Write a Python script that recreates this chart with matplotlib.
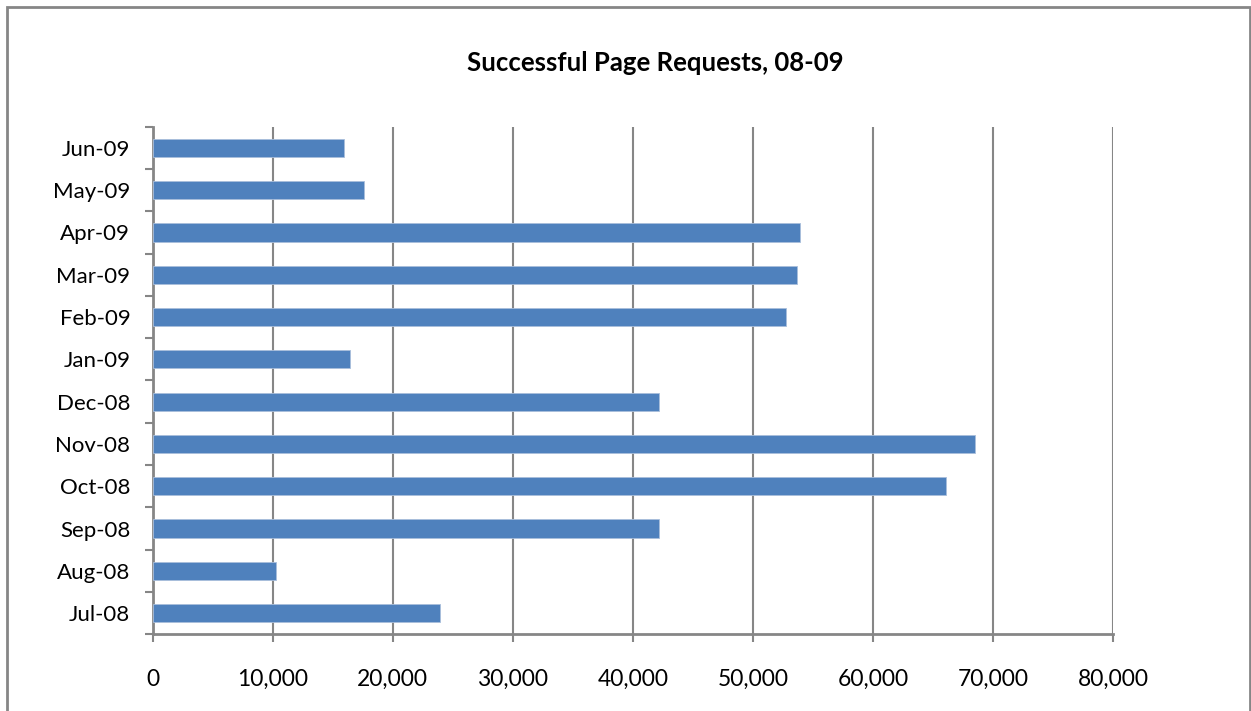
import matplotlib
matplotlib.use("Agg")
import matplotlib.pyplot as plt
from matplotlib.ticker import FuncFormatter
from matplotlib.patches import Rectangle
import numpy as np

months = ["Jul-08", "Aug-08", "Sep-08", "Oct-08", "Nov-08", "Dec-08",
          "Jan-09", "Feb-09", "Mar-09", "Apr-09", "May-09", "Jun-09"]
requests = [23940, 10290, 42180, 66110, 68500, 42180,
            16480, 52760, 53650, 53930, 17640, 15980]
x_ticks = [0, 10000, 20000, 30000, 40000, 50000, 60000, 70000, 80000]
title = "Successful Page Requests, 08-09"

plt.rcParams['font.family'] = ['Lato', 'DejaVu Sans']

fig = plt.figure(figsize=(12.51, 7.11), dpi=100)
W, H = 1251, 711
ax = fig.add_axes([152.5 / W, 1 - 634.3 / H, (1113 - 152.5) / W, (634.3 - 126.7) / H])

grey = "#868686"
y = np.arange(len(months))
ax.barh(y, requests, height=0.43, color="#4F81BD", edgecolor="#A9BEDB", linewidth=0.6, zorder=3)

ax.set_xlim(0, 80000)
ax.set_ylim(-0.5, len(months) - 0.5)
ax.set_xticks(x_ticks)
ax.xaxis.set_major_formatter(FuncFormatter(lambda v, p: f"{int(v):,}"))
ax.set_yticks(y)
ax.set_yticklabels(months)
ax.set_yticks(np.arange(-0.5, len(months), 1.0), minor=True)

ax.grid(axis="x", color=grey, linewidth=1.5, zorder=0)
for s in ["top", "right"]:
    ax.spines[s].set_visible(False)
for s in ["left", "bottom"]:
    ax.spines[s].set_color(grey)
    ax.spines[s].set_linewidth(2)

ax.tick_params(axis="y", which="major", length=0, pad=16, labelsize=16, labelcolor="#000000")
ax.tick_params(axis="y", which="minor", length=6, width=1.5, color=grey, direction="out")
ax.tick_params(axis="x", which="major", length=6, width=1.5, color=grey, direction="out",
               pad=19, labelsize=16.5)

fig.text(655 / W, 1 - 63 / H, title, ha="center", va="center", fontsize=18.5, fontweight="bold")

frame = Rectangle((7 / W, -0.05), (1250 - 7) / W, (1 - 7 / H) + 0.05, transform=fig.transFigure,
                  fill=False, edgecolor=grey, linewidth=2)
fig.patches.append(frame)

fig.savefig("out.png", dpi=100)
